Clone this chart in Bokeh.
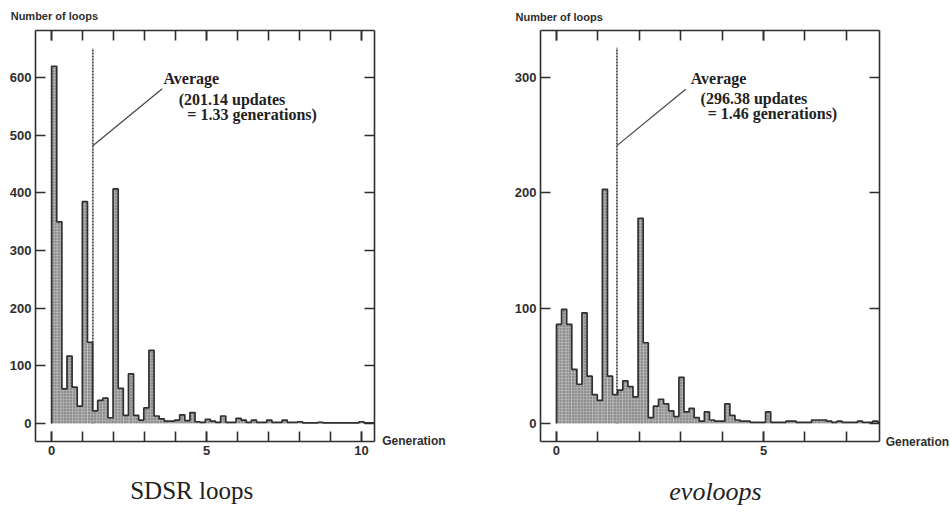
import numpy as np
from bokeh.plotting import figure
from bokeh.layouts import row
from bokeh.models import Range1d, LinearAxis, SingleIntervalTicker, Label, CustomJSTickFormatter
from bokeh.embed import file_html
from bokeh.resources import INLINE

# ---------------- data ----------------
BIN_UPDATES = 25  # histogram bin width in updates

sdsr_counts = [620, 350, 60, 117, 63, 30, 385, 141, 22, 40,
               44, 10, 407, 61, 14, 86, 14, 6, 27, 127,
               13, 8, 4, 4, 6, 15, 5, 19, 3, 2,
               7, 4, 2, 13, 2, 2, 9, 6, 2, 6,
               2, 2, 6, 2, 2, 6, 2, 2, 3, 1,
               1, 1, 2, 1, 1, 1, 1, 1, 1, 1,
               3, 1, 1]
sdsr_avg_updates = 201.14
sdsr_avg_generations = 1.33

evo_counts = [86, 99, 86, 47, 34, 96, 41, 25, 20, 203,
              41, 25, 29, 37, 32, 23, 178, 70, 5, 15,
              21, 17, 11, 6, 40, 10, 13, 5, 2, 10,
              3, 2, 2, 17, 7, 3, 2, 2, 1, 1,
              1, 10, 1, 1, 1, 2, 2, 1, 1, 1,
              3, 3, 3, 2, 1, 2, 1, 1, 1, 2,
              1, 1, 2, 1]
evo_avg_updates = 296.38
evo_avg_generations = 1.46

y_title = "Number of loops"
x_title = "Generation"
avg_title = "Average"

SANS = "Liberation Sans"
SERIF = "Liberation Serif"
INK = "#2e2e2e"


def style_axis(ax, labels=True):
    ax.axis_line_color = INK
    ax.axis_line_width = 1.6
    ax.major_tick_line_color = INK
    ax.major_tick_line_width = 1.6
    ax.minor_tick_line_color = INK
    ax.minor_tick_line_width = 1.6
    ax.major_tick_in = 10
    ax.major_tick_out = 0
    ax.minor_tick_in = 10
    ax.minor_tick_out = 0
    ax.major_label_text_font = SANS
    ax.major_label_text_font_style = "bold"
    ax.major_label_text_font_size = "13px"
    ax.major_label_text_color = INK
    ax.major_label_standoff = 4
    if not labels:
        ax.formatter = CustomJSTickFormatter(code="return ''")
        ax.major_label_standoff = 0


def panel(counts, avg_upd, avg_gen, cfg):
    p = figure(width=cfg["w"], height=520,
               min_border_left=cfg["bl"], min_border_right=cfg["br"],
               min_border_top=30, min_border_bottom=79,
               x_range=Range1d(*cfg["xr"]), y_range=Range1d(*cfg["yr"]),
               output_backend="svg", toolbar_location=None, title=None)
    p.xgrid.visible = False
    p.ygrid.visible = False
    p.outline_line_color = None
    p.background_fill_color = "white"
    p.border_fill_color = "white"

    p.xaxis.ticker = SingleIntervalTicker(interval=5, num_minor_ticks=5)
    p.yaxis.ticker = SingleIntervalTicker(interval=100, num_minor_ticks=0)
    style_axis(p.xaxis[0])
    style_axis(p.yaxis[0])
    top = LinearAxis(ticker=SingleIntervalTicker(interval=5, num_minor_ticks=5))
    style_axis(top, labels=False)
    p.add_layout(top, "above")
    right = LinearAxis(ticker=SingleIntervalTicker(interval=100, num_minor_ticks=0))
    style_axis(right, labels=False)
    p.add_layout(right, "right")

    # histogram geometry from data
    gen_per_bin = BIN_UPDATES / (avg_upd / avg_gen)
    c = np.array(counts, dtype=float)
    edges = np.arange(len(c) + 1) * gen_per_bin

    # average marker (behind the bars)
    p.segment(x0=[avg_gen], y0=[0], x1=[avg_gen], y1=[cfg["avg_top"]],
              line_color="#4a4a4a", line_width=1.8, line_dash="2 1")

    p.quad(left=edges[:-1], right=edges[1:], bottom=0, top=c,
           fill_color="#ababab", line_color=None,
           hatch_pattern=".", hatch_color="#5e5e5e", hatch_scale=3, hatch_weight=1)
    xs = np.repeat(edges, 2)
    ys = np.concatenate([[0], np.repeat(c, 2), [0]])
    p.line(xs, ys, line_color="#303030", line_width=1.7)

    # connector
    p.segment(x0=[avg_gen], y0=[cfg["conn"][0]], x1=[cfg["conn"][1]], y1=[cfg["conn"][2]],
              line_color="#444444", line_width=1.2)

    lines = [avg_title,
             "(%.2f updates" % avg_upd,
             "= %.2f generations)" % avg_gen]
    for (tx, ty), t in zip(cfg["note"], lines):
        p.add_layout(Label(x=tx, y=ty, text=t, text_font=SERIF, text_font_style="bold",
                           text_font_size="16px", text_color="#222222", text_baseline="middle"))

    # texts outside the frame live in side panels (not clipped to the frame)
    p.add_layout(Label(x=cfg["ytitle"][0], y=cfg["ytitle"][1], text=y_title, text_font=SANS,
                       text_font_style="bold", text_font_size="11px", text_color=INK,
                       text_baseline="middle"), "below")
    p.add_layout(Label(x=cfg["xtitle"][0], y=cfg["xtitle"][1], text=x_title, text_font=SANS,
                       text_font_style="bold", text_font_size="12px", text_color=INK,
                       text_baseline="middle"), "below")
    p.add_layout(Label(x=cfg["cap"][0], y=cfg["cap"][1], text=cfg["caption"], text_font=SERIF,
                       text_font_style=cfg["cap_style"], text_font_size=cfg["cap_size"],
                       text_color="#222222", text_align="center", text_baseline="middle"), "below")
    return p


left_cfg = dict(w=475, bl=35, br=101, xr=(-0.52, 10.42), yr=(-31.25, 682),
                avg_top=651, conn=(482, 3.57, 581),
                note=[(3.61, 599), (4.10, 562), (4.38, 537)],
                ytitle=(-1.32, 707), xtitle=(10.67, -30.4), cap=(4.52, -116),
                caption="SDSR loops", cap_style="normal", cap_size="25px")
right_cfg = dict(w=474, bl=65, br=70, xr=(-0.386, 7.80), yr=(-15.65, 340.9),
                 avg_top=326, conn=(241, 3.12, 290),
                 note=[(3.24, 299), (3.48, 282), (3.65, 269)],
                 ytitle=(-0.99, 353), xtitle=(7.95, -16.1), cap=(3.84, -59),
                 caption="evoloops", cap_style="italic", cap_size="26px")

p1 = panel(sdsr_counts, sdsr_avg_updates, sdsr_avg_generations, left_cfg)
p2 = panel(evo_counts, evo_avg_updates, evo_avg_generations, right_cfg)
layout = row(p1, p2)

open("out.html", "w").write(file_html(layout, INLINE))
